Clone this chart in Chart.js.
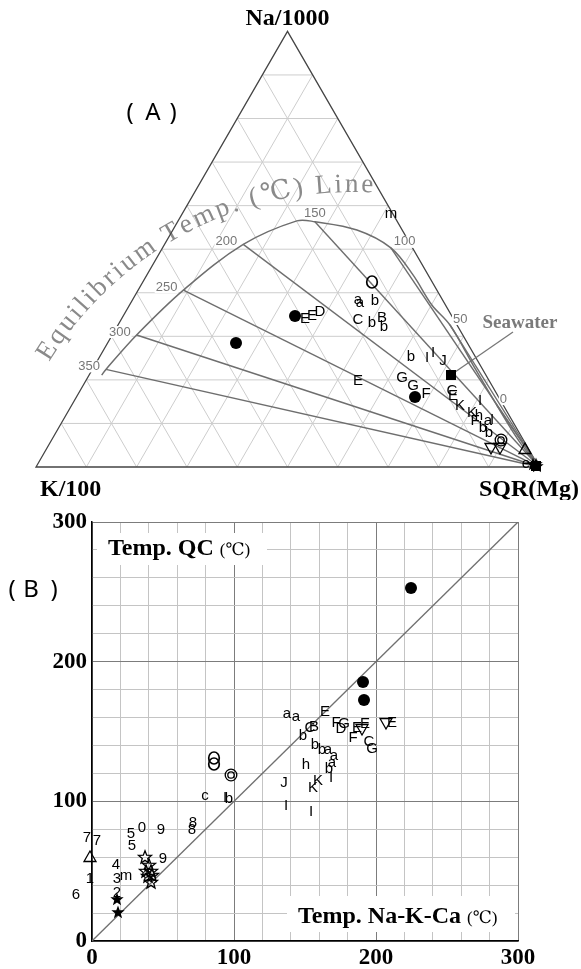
<!DOCTYPE html>
<html>
<head>
<meta charset="utf-8">
<script src="https://cdn.jsdelivr.net/npm/chart.js@4.4.1/dist/chart.umd.min.js"></script>
<style>
  html, body { margin: 0; padding: 0; background: #fff; }
  #wrap { position: relative; width: 581px; height: 969px; }
  #ternary { position: absolute; left: 0; top: 0; }
  #compare { position: absolute; left: 0; top: 500px; }
</style>
</head>
<body>
<div id="wrap">
  <canvas id="ternary" width="581" height="500"></canvas>
  <canvas id="compare" width="581" height="469"></canvas>
</div>
<script>
// (A) Na/1000 - K/100 - SQR(Mg) ternary, values in percent (K/100 = 100 - Na - Mg)
const curveNa = [21.1, 22.4, 30.3, 40.6, 51.1, 56.5, 56.3, 54.4, 50.3, 44.1, 37.2, 32.6, 23.0, 14.2, 6.0, 0];
const curveMg = [2.5, 2.7, 4.85, 9.0, 15.65, 23.6, 27.3, 36.6, 45.4, 52.9, 60.1, 66.0, 75.6, 84.5, 93.0, 100];

const isoTemps = [350, 300, 250, 200, 150, 100, 50, 0];
const isoNa = [22.4, 30.3, 40.6, 51.1, 56.3, 50.3, 32.6, 14.2];
const isoMg = [2.7, 4.85, 9.0, 15.65, 27.3, 45.4, 66.0, 84.5];

const topSym = ['O', 'a', 'a', 'b', 'C', 'b', 'B', 'b', '●', 'E', 'E', 'D', '●', 'm', 'b', 'I', 'I', 'J',
  'E', 'G', 'G', '●', 'F', 'C', 'E', 'K', 'K', 'I', 'h', 'F', 'a', 'I', 'b', 'b', '◎', '▽', '▽', '△',
  'e', '★', '■', '★', '★'];
const topNa = [42.5, 38.5, 37.9, 38.3, 34.0, 33.2, 34.5, 32.4, 34.7, 34.1, 34.9, 35.9, 28.5, 58.2, 25.5, 25.2, 26.5, 24.6,
  20.0, 20.7, 18.8, 16.1, 17.1, 17.7, 16.5, 14.2, 12.7, 15.4, 11.9, 10.8, 10.8, 10.95, 9.25, 8.1, 6.2, 4.3, 4.3, 4.1,
  1.0, 0.6, 0.3, 0.2, 0.7];
const topMg = [45.6, 44.8, 45.5, 48.3, 47.1, 50.1, 51.5, 53.0, 34.1, 36.4, 37.4, 38.5, 25.5, 41.5, 61.8, 65.1, 65.7, 68.7,
  54.1, 62.4, 65.5, 67.2, 68.9, 73.8, 74.7, 77.2, 80.3, 80.6, 82.2, 81.9, 84.5, 85.2, 84.2, 86.1, 89.3, 88.4, 90.1, 95.2,
  96.9, 98.6, 99.2, 99.6, 99.1];

const seawaterNa = 21.1;
const seawaterMg = 71.9;

// (B) Na-K-Ca temperature vs quartz (QC) temperature, deg C
const cmpSym = ['●', '●', '●', 'O', 'O', '◎', 'a', 'a', 'E', 'F', 'G', 'D', 'E', 'E', '▽', 'F', 'C', 'G', '▽', 'E',
  'C', 'B', 'b', 'b', 'b', 'a', 'a', 'h', 'a', 'b', 'I', 'K', 'K', 'J', 'I', 'I', 'c', 'I', 'b',
  '0', '5', '9', '8', '8', '7', '7', '5', '△', '9', '4', '1', '3', 'm', '6', '2', '★', '★',
  '☆', '☆', '☆', '☆', '☆', '☆', '☆'];
const nkcTemp = [224.5, 191, 191.5, 86, 86, 98, 137, 144, 164, 172, 177.5, 175.5, 186.5, 192, 190, 184, 195, 197, 207, 211,
  153.5, 156, 148.5, 157, 162, 166.5, 170.5, 151, 169, 167, 168, 159.5, 155.5, 135.5, 136.5, 154, 79.5, 93.5, 96.5,
  35, 27.5, 48.7, 71, 70.5, -3.5, 3.2, 28.5, -1.5, 50, 16.8, -1.5, 17.8, 24, -11, 17.8, 17.5, 18,
  37.5, 40, 38.2, 41.8, 39.5, 42.5, 41.5];
const qcTemp = [253, 185.5, 172.5, 131, 127, 118.5, 163.5, 161, 164.7, 157, 156, 152.3, 153, 156.3, 151.5, 145.8, 143.4, 138, 156.3, 157,
  153.4, 154, 147.5, 141, 137.5, 137.3, 133.2, 126.7, 128.5, 124, 117.6, 115.3, 110.5, 114.1, 97.4, 93.3, 104.5, 103, 102.5,
  81.7, 77, 80.5, 85.2, 79.9, 74.8, 72.4, 68.5, 60.4, 59.7, 55, 45, 45, 47, 34, 35.4, 29.9, 20.8,
  60, 54.5, 50.3, 49.8, 46.3, 47.4, 42.6];

const parity = [0, 300];

const SQ3 = Math.sqrt(3) / 2;
function tern(na, mg) {
  return { x: (mg + na / 2) / 100, y: na / 100 * SQ3 };
}

// little canvases used as point styles
const glyphCache = {};
function starPath(g, cx, cy, ro, ri) {
  g.beginPath();
  for (let k = 0; k < 10; k++) {
    const r = k % 2 ? ri : ro;
    const a = -Math.PI / 2 + k * Math.PI / 5;
    g.lineTo(cx + r * Math.cos(a), cy + r * Math.sin(a));
  }
  g.closePath();
}
function glyph(sym) {
  if (glyphCache[sym]) return glyphCache[sym];
  const c = document.createElement('canvas');
  c.width = 22; c.height = 22;
  const g = c.getContext('2d');
  const m = 11;
  g.fillStyle = '#000';
  g.strokeStyle = '#000';
  g.lineWidth = 1.3;
  switch (sym) {
    case '●':
      g.beginPath(); g.arc(m, m, 6, 0, Math.PI * 2); g.fill();
      break;
    case 'O':
      g.lineWidth = 1.7;
      g.beginPath(); g.ellipse(m, m, 5.3, 6, 0, 0, Math.PI * 2); g.stroke();
      break;
    case '◎':
      g.beginPath(); g.arc(m, m, 5.8, 0, Math.PI * 2); g.stroke();
      g.beginPath(); g.arc(m, m, 3.2, 0, Math.PI * 2); g.stroke();
      break;
    case '■':
      g.fillRect(m - 5, m - 5, 10, 10);
      break;
    case '△':
      g.beginPath(); g.moveTo(m, m - 6); g.lineTo(m + 6, m + 4.5); g.lineTo(m - 6, m + 4.5); g.closePath(); g.stroke();
      break;
    case '▽':
      g.beginPath(); g.moveTo(m, m + 6); g.lineTo(m + 6, m - 4.5); g.lineTo(m - 6, m - 4.5); g.closePath(); g.stroke();
      break;
    case '★':
      starPath(g, m, m + 0.5, 7, 2.9); g.fill();
      break;
    case '☆':
      starPath(g, m, m + 0.5, 6.8, 2.9); g.stroke();
      break;
    default:
      g.font = '15px "Liberation Sans", Arial, sans-serif';
      g.textAlign = 'center';
      g.textBaseline = 'middle';
      g.fillText(sym, m, m + 1);
  }
  glyphCache[sym] = c;
  return c;
}

function drawArcText(ctx, text, cx, cy, r, a0, a1) {
  const chars = [...text];
  const widths = chars.map(ch => ctx.measureText(ch).width);
  const total = widths.reduce((s, w) => s + w, 0);
  const gap = (r * (a1 - a0) - total) / (chars.length - 1);
  let s = 0;
  chars.forEach((ch, i) => {
    const a = a0 + (s + widths[i] / 2) / r;
    ctx.save();
    ctx.translate(cx + r * Math.cos(a), cy + r * Math.sin(a));
    ctx.rotate(a + Math.PI / 2);
    ctx.fillText(ch, 0, 0);
    ctx.restore();
    s += widths[i] + gap;
  });
}

const ternaryDecor = {
  id: 'ternaryDecor',
  beforeDatasetsDraw(chart) {
    const { ctx, scales: { x, y } } = chart;
    const P = (na, mg) => {
      const t = tern(na, mg);
      return [x.getPixelForValue(t.x), y.getPixelForValue(t.y)];
    };
    const seg = (a, b) => {
      ctx.beginPath(); ctx.moveTo(a[0], a[1]); ctx.lineTo(b[0], b[1]); ctx.stroke();
    };
    ctx.save();

    // 10% grid
    ctx.strokeStyle = '#cdcdcd';
    ctx.lineWidth = 1;
    for (let f = 10; f < 100; f += 10) {
      seg(P(f, 0), P(f, 100 - f));
      seg(P(0, f), P(100 - f, f));
      seg(P(0, 100 - f), P(100 - f, 0));
    }

    // curved caption of the equilibrium line
    ctx.font = '27px "Liberation Serif", "DejaVu Serif", serif';
    ctx.fillStyle = '#8a8a8a';
    ctx.textAlign = 'center';
    ctx.textBaseline = 'alphabetic';
    drawArcText(ctx, 'Equilibrium Temp. (℃) Line', 352, 547, 355, -148.6 * Math.PI / 180, -86.6 * Math.PI / 180);

    // triangle
    const A = P(100, 0), K = P(0, 0), M = P(0, 100);
    ctx.strokeStyle = '#444';
    ctx.lineWidth = 1.3;
    ctx.beginPath();
    ctx.moveTo(A[0], A[1]); ctx.lineTo(K[0], K[1]); ctx.lineTo(M[0], M[1]); ctx.closePath();
    ctx.stroke();

    // temperature labels on the curve
    ctx.font = '13px "Liberation Sans", Arial, sans-serif';
    ctx.textBaseline = 'middle';
    isoTemps.forEach((t, i) => {
      const p = P(isoNa[i], isoMg[i]);
      const label = String(t);
      const w = ctx.measureText(label).width;
      let lx, ly;
      if (t >= 200) { lx = p[0] - 6 - w; ly = p[1] - 3; }
      else if (t === 150) { lx = p[0] - w / 2; ly = p[1] - 8; }
      else { lx = p[0] + 3; ly = p[1] - 6; }
      ctx.fillStyle = '#fff';
      ctx.fillRect(lx - 1, ly - 6, w + 2, 12);
      ctx.fillStyle = '#777';
      ctx.textAlign = 'left';
      ctx.fillText(label, lx, ly);
    });

    // corner titles
    ctx.fillStyle = '#000';
    ctx.font = 'bold 24px "Liberation Serif", serif';
    ctx.textBaseline = 'alphabetic';
    ctx.textAlign = 'center';
    ctx.fillText('Na/1000', A[0], 25);
    ctx.textAlign = 'left';
    ctx.fillText('K/100', 40, 496);
    ctx.textAlign = 'right';
    ctx.fillText('SQR(Mg)', 579, 496);

    // panel tag
    ctx.font = '24px "Noto Sans", sans-serif';
    ctx.textAlign = 'center';
    ctx.textBaseline = 'middle';
    ctx.fillText('(', 130, 113);
    ctx.fillText('A', 153, 113);
    ctx.fillText(')', 173, 113);

    // seawater note
    const sw = P(seawaterNa, seawaterMg);
    ctx.strokeStyle = '#777';
    ctx.lineWidth = 1.3;
    seg(sw, [513, 332]);
    ctx.fillStyle = '#7a7a7a';
    ctx.font = 'bold 19px "Liberation Serif", serif';
    ctx.textBaseline = 'alphabetic';
    ctx.fillText('Seawater', 520, 328);

    ctx.restore();
    ctx.imageSmoothingEnabled = false;
  }
};

const lineStyle = { showLine: true, borderColor: '#6e6e6e', borderWidth: 1.5, pointRadius: 0, fill: false };

new Chart(document.getElementById('ternary'), {
  type: 'scatter',
  data: {
    datasets: [
      {
        data: topSym.map((s, i) => tern(topNa[i], topMg[i])).concat([tern(seawaterNa, seawaterMg)]),
        pointStyle: c => glyph(c.dataIndex < topSym.length ? topSym[c.dataIndex] : '■'),
        pointRadius: 12
      },
      { ...lineStyle, data: curveNa.map((na, i) => tern(na, curveMg[i])), tension: 0.35 },
      ...isoTemps.map((t, i) => ({ ...lineStyle, borderWidth: 1.4, data: [tern(isoNa[i], isoMg[i]), tern(0, 100)] }))
    ]
  },
  options: {
    responsive: false,
    animation: false,
    events: [],
    layout: { padding: 0, autoPadding: false },
    plugins: { legend: { display: false }, tooltip: { enabled: false } },
    scales: {
      x: { type: 'linear', display: false, min: -0.0716, max: 1.0835 },
      y: { type: 'linear', display: false, min: -0.0656, max: 0.9284 }
    }
  },
  plugins: [ternaryDecor]
});

function labelBox(ctx, left, top, width, height, bold, small, baseline) {
  ctx.fillStyle = '#fff';
  ctx.fillRect(left, top, width, height);
  ctx.fillStyle = '#000';
  ctx.textAlign = 'left';
  ctx.textBaseline = 'alphabetic';
  ctx.font = 'bold 24px "Liberation Serif", serif';
  ctx.fillText(bold, left + 11, baseline);
  const w = ctx.measureText(bold + ' ').width;
  ctx.font = '17px "Liberation Serif", "DejaVu Serif", serif';
  ctx.fillText(small, left + 11 + w, baseline);
}

const compareDecor = {
  id: 'compareDecor',
  beforeDatasetsDraw(chart) {
    const { ctx, chartArea: a } = chart;
    ctx.save();
    labelBox(ctx, a.left + 5, a.top + 11, 170, 32, 'Temp. QC', '(℃)', a.top + 33);
    labelBox(ctx, a.left + 195, a.bottom - 45, 228, 36, 'Temp. Na-K-Ca', '(℃)', a.bottom - 18);
    ctx.restore();
    ctx.imageSmoothingEnabled = false;
  },
  afterDraw(chart) {
    const { ctx } = chart;
    ctx.save();
    ctx.fillStyle = '#000';
    ctx.font = '24px "Noto Sans", sans-serif';
    ctx.textAlign = 'center';
    ctx.textBaseline = 'middle';
    ctx.fillText('(', 12, 90);
    ctx.fillText('B', 31, 90);
    ctx.fillText(')', 54, 90);
    ctx.restore();
  }
};

const gridColor = c => (c.tick && Math.round(c.tick.value) % 100 === 0) ? '#7c7c7c' : '#c4c4c4';
const tickFont = { family: '"Liberation Serif", serif', size: 23, weight: 'bold' };
const hundreds = v => Math.round(v) % 100 === 0 ? String(Math.round(v)) : '';

new Chart(document.getElementById('compare'), {
  type: 'scatter',
  data: {
    datasets: [
      {
        data: cmpSym.map((s, i) => ({ x: nkcTemp[i], y: qcTemp[i] })),
        pointStyle: c => glyph(cmpSym[c.dataIndex]),
        pointRadius: 20,
        clip: false
      },
      { ...lineStyle, borderColor: '#707070', borderWidth: 1.3, data: parity.map(v => ({ x: v, y: v })) }
    ]
  },
  options: {
    responsive: false,
    animation: false,
    events: [],
    layout: { padding: { left: 0, right: 63, top: 22, bottom: 0 }, autoPadding: false },
    plugins: { legend: { display: false }, tooltip: { enabled: false } },
    scales: {
      x: {
        type: 'linear', min: 0, max: 300,
        afterFit: s => { s.height = 28; },
        ticks: { stepSize: 20, autoSkip: false, maxRotation: 0, padding: 3, color: '#000', font: tickFont, callback: hundreds },
        grid: { color: gridColor, lineWidth: 1, drawTicks: false },
        border: { color: '#000', width: 1.5 }
      },
      y: {
        type: 'linear', min: 0, max: 300,
        afterFit: s => { s.width = 92; },
        ticks: { stepSize: 20, autoSkip: false, padding: 5, color: '#000', font: tickFont, callback: hundreds },
        grid: { color: gridColor, lineWidth: 1, drawTicks: false },
        border: { color: '#000', width: 1.5 }
      }
    }
  },
  plugins: [compareDecor]
});
</script>
</body>
</html>
